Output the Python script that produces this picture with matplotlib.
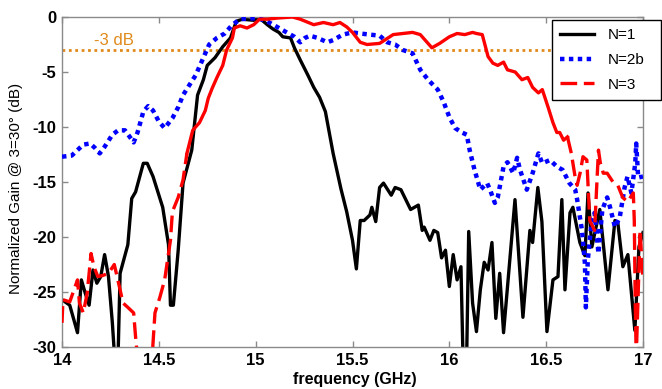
import numpy as np
import matplotlib
matplotlib.use("Agg")
import matplotlib.pyplot as plt

plt.rcParams['font.family'] = ['Liberation Sans', 'DejaVu Sans']
plt.rcParams['axes.unicode_minus'] = False

# ---- measured responses: frequency (GHz) / normalized gain (dB) ----
f_n1 = [14.00, 14.04, 14.08, 14.10, 14.12, 14.14, 14.16, 14.18, 14.20, 14.22,
        14.24, 14.26, 14.27, 14.29, 14.30, 14.34, 14.36, 14.38, 14.42, 14.44,
        14.47, 14.52, 14.55, 14.56, 14.575, 14.60, 14.625, 14.67, 14.70, 14.73,
        14.75, 14.79, 14.83, 14.87, 14.88, 14.90, 14.93, 14.99, 15.02, 15.06,
        15.09, 15.12, 15.14, 15.18, 15.20, 15.23, 15.27, 15.30, 15.33, 15.36,
        15.38, 15.40, 15.43, 15.44, 15.47, 15.50, 15.52, 15.54, 15.56, 15.59,
        15.60, 15.62, 15.64, 15.66, 15.70, 15.72, 15.75, 15.80, 15.84, 15.86,
        15.87, 15.90, 15.92, 15.94, 15.96, 15.98, 16.00, 16.02, 16.04, 16.06,
        16.07, 16.09, 16.10, 16.12, 16.14, 16.16, 16.18, 16.20, 16.22, 16.24,
        16.26, 16.28, 16.339, 16.38, 16.416, 16.43, 16.457, 16.478, 16.504, 16.535,
        16.561, 16.581, 16.597, 16.623, 16.638, 16.674, 16.70, 16.716, 16.736, 16.777,
        16.819, 16.855, 16.87, 16.896, 16.922, 16.958, 16.979, 17.00]
g_n1 = [-25.7, -26.2, -28.7, -23.9, -25.1, -26.2, -23.0, -24.2, -23.6, -21.6,
        -23.6, -27.8, -30.5, -30.5, -23.3, -20.7, -16.5, -15.9, -13.3, -13.3,
        -14.5, -17.3, -20.7, -26.2, -26.2, -21.2, -15.1, -12.1, -7.1, -5.7,
        -4.4, -3.7, -2.7, -1.9, -1.4, -0.4, -0.2, -0.3, -0.1, -0.7,
        -1.1, -1.4, -1.8, -1.9, -2.8, -3.9, -5.3, -6.4, -7.3, -8.6,
        -10.5, -12.4, -14.8, -15.6, -17.7, -20.3, -22.9, -18.5, -18.5, -18.0,
        -17.3, -18.6, -15.5, -15.1, -16.2, -15.5, -15.7, -17.5, -17.1, -19.4,
        -19.1, -20.3, -19.4, -19.6, -21.9, -21.2, -24.5, -21.6, -23.9, -22.7,
        -30.5, -30.5, -19.5, -26.0, -28.6, -24.8, -22.3, -23.0, -20.5, -27.4,
        -23.3, -28.7, -16.6, -27.3, -19.4, -20.5, -15.5, -18.6, -28.6, -23.9,
        -23.6, -16.6, -24.8, -17.8, -17.3, -20.5, -21.7, -16.0, -20.9, -17.5,
        -24.8, -18.5, -18.7, -22.7, -21.6, -28.5, -20.9, -19.6]

f_n2b = [14.00, 14.05, 14.08, 14.11, 14.145, 14.17, 14.195, 14.22, 14.26, 14.29,
         14.325, 14.35, 14.37, 14.39, 14.42, 14.445, 14.47, 14.50, 14.53, 14.57,
         14.60, 14.625, 14.65, 14.69, 14.72, 14.76, 14.80, 14.84, 14.88, 14.92,
         15.01, 15.06, 15.11, 15.16, 15.20, 15.23, 15.255, 15.28, 15.32, 15.37,
         15.40, 15.45, 15.50, 15.54, 15.59, 15.64, 15.68, 15.72, 15.76, 15.81,
         15.85, 15.89, 15.94, 15.97, 16.00, 16.03, 16.065, 16.09, 16.105, 16.13,
         16.16, 16.195, 16.21, 16.235, 16.25, 16.28, 16.30, 16.33, 16.35, 16.365,
         16.40, 16.43, 16.46, 16.48, 16.52, 16.555, 16.585, 16.62, 16.65, 16.66,
         16.685, 16.70, 16.705, 16.715, 16.735, 16.75, 16.77, 16.79, 16.815, 16.83,
         16.855, 16.88, 16.905, 16.92, 16.94, 16.96, 16.965, 16.975, 17.00]
g_n2b = [-12.7, -12.6, -12.1, -11.6, -11.5, -11.9, -12.4, -11.8, -10.7, -10.3,
         -10.3, -10.9, -11.4, -10.5, -8.6, -8.1, -8.5, -9.5, -10.1, -9.2,
         -8.2, -7.1, -6.4, -5.3, -4.1, -2.5, -1.9, -1.5, -0.7, -0.2,
         -0.1, -0.4, -0.9, -1.4, -1.8, -2.3, -1.9, -1.7, -1.9, -2.3,
         -2.1, -1.6, -1.4, -1.5, -1.6, -1.7, -2.3, -2.5, -3.0, -3.3,
         -4.8, -5.7, -6.6, -7.7, -9.1, -10.1, -10.5, -10.7, -12.1, -13.9,
         -15.7, -15.1, -15.7, -16.9, -16.4, -13.6, -13.2, -14.2, -12.8, -13.9,
         -15.7, -14.2, -12.4, -13.3, -13.0, -13.6, -13.9, -15.1, -15.7, -16.6,
         -19.4, -22.4, -26.4, -22.1, -18.5, -17.8, -21.5, -17.5, -16.4, -17.3,
         -19.1, -18.2, -15.5, -14.5, -16.0, -13.3, -11.5, -14.6, -14.5]

f_n3 = [14.00, 14.005, 14.04, 14.08, 14.09, 14.11, 14.13, 14.15, 14.165, 14.185,
        14.21, 14.24, 14.27, 14.30, 14.315, 14.34, 14.37, 14.38, 14.39, 14.42,
        14.465, 14.48, 14.505, 14.53, 14.56, 14.57, 14.60, 14.625, 14.645, 14.675,
        14.71, 14.74, 14.755, 14.775, 14.80, 14.83, 14.85, 14.88, 14.89, 14.92,
        14.955, 14.99, 15.02, 15.06, 15.11, 15.19, 15.23, 15.30, 15.35, 15.40,
        15.435, 15.47, 15.50, 15.54, 15.575, 15.64, 15.71, 15.81, 15.85, 15.91,
        15.95, 16.00, 16.04, 16.08, 16.12, 16.14, 16.17, 16.20, 16.225, 16.25,
        16.28, 16.30, 16.34, 16.375, 16.405, 16.43, 16.46, 16.48, 16.51, 16.535,
        16.555, 16.57, 16.59, 16.61, 16.63, 16.65, 16.66, 16.675, 16.69, 16.71,
        16.725, 16.75, 16.77, 16.78, 16.795, 16.815, 16.845, 16.87, 16.895, 16.92,
        16.95, 16.955, 16.96, 16.965, 16.985, 17.00]
g_n3 = [-27.8, -25.7, -25.9, -23.9, -26.0, -26.9, -25.1, -21.5, -22.7, -23.6,
        -23.5, -23.3, -22.5, -24.8, -26.0, -26.4, -26.9, -29.1, -31.0, -33.0,
        -31.0, -26.9, -25.5, -23.9, -20.3, -17.7, -16.4, -14.8, -12.4, -10.3,
        -9.6, -8.5, -7.4, -6.5, -5.5, -4.4, -3.0, -1.9, -1.0, -0.8,
        -1.0, -0.7, -0.2, -0.2, -0.1, 0.0, -0.2, -0.7, -0.5, -0.7,
        -0.5, -0.9, -1.4, -2.3, -2.5, -2.4, -1.6, -1.4, -1.6, -2.8,
        -2.4, -1.8, -1.5, -1.6, -1.4, -1.5, -1.6, -3.6, -4.2, -4.4,
        -4.1, -4.8, -5.0, -5.7, -5.5, -6.4, -6.9, -6.6, -8.2, -9.6,
        -10.5, -10.5, -11.2, -10.9, -12.4, -14.6, -15.3, -14.2, -12.7, -13.0,
        -18.5, -19.4, -12.1, -13.3, -14.2, -14.2, -15.0, -15.3, -16.4, -16.8,
        -16.0, -18.5, -26.0, -31.0, -19.4, -24.0]

ref_level = -3.0
ref_text = "-3 dB"
series_labels = ["N=1", "N=2b", "N=3"]
x_ticks = [14, 14.5, 15, 15.5, 16, 16.5, 17]
x_tick_labels = ["14", "14.5", "15", "15.5", "16", "16.5", "17"]
y_ticks = [0, -5, -10, -15, -20, -25, -30]
y_tick_labels = ["0", "-5", "-10", "-15", "-20", "-25", "-30"]

ORANGE = '#E08A1A'
GRAY = '#8a8a8a'

fig = plt.figure(figsize=(6.62, 3.89), dpi=100)
ax = fig.add_axes([62 / 662, 42 / 389, 581 / 662, 330 / 389])

# -3 dB reference
ax.axhline(ref_level, color=ORANGE, lw=2.0, linestyle=(0, (1, 1.3)), zorder=1)
ax.text(14.163, -2.55, ref_text, color=ORANGE, fontsize=12, va='baseline', ha='left')

# curves
ax.plot(f_n1, g_n1, color='black', lw=2.4, label=series_labels[0], zorder=2)
ax.plot(f_n2b, g_n2b, color='#0000FF', lw=3.2, linestyle=(0, (1, 1.0)),
        label=series_labels[1], zorder=3)

f3 = np.array(f_n3)
g3 = np.array(g_n3)
lo = f3 <= 14.645
mid = (f3 >= 14.645) & (f3 <= 16.61)
hi = f3 >= 16.61
ax.plot(f3[lo], g3[lo], color='#FF0000', lw=2.4, linestyle=(0, (5, 2)),
        label=series_labels[2], zorder=4)
ax.plot(f3[mid], g3[mid], color='#FF0000', lw=2.4, zorder=4)
ax.plot(f3[hi], g3[hi], color='#FF0000', lw=2.4, linestyle=(0, (5, 2)), zorder=4)

ax.set_xlim(14, 17)
ax.set_ylim(-30, 0)
ax.set_xticks(x_ticks)
ax.set_xticklabels(x_tick_labels)
ax.set_yticks(y_ticks)
ax.set_yticklabels(y_tick_labels)

for s in ax.spines.values():
    s.set_color(GRAY)
    s.set_linewidth(1.0)
ax.tick_params(direction='in', length=4, width=1, color=GRAY,
               top=True, right=True, labelsize=12, pad=4)
for lab in ax.get_xticklabels() + ax.get_yticklabels():
    lab.set_fontweight('bold')

ax.set_xlabel("frequency (GHz)", fontsize=11.5, fontweight='bold')
ax.xaxis.set_label_coords(0.504, -0.075)
ax.set_ylabel("Normalized Gain @ 3=30° (dB)", fontsize=11)
ax.yaxis.set_label_coords(-0.067, 0.48)

leg = ax.legend(loc='upper left',
                bbox_to_anchor=(552 / 662, (389 - 98) / 389, 109 / 662, 78 / 389),
                bbox_transform=fig.transFigure, borderaxespad=0, mode='expand',
                fontsize=11, handlelength=2.2, handletextpad=0.9,
                labelspacing=0.7, borderpad=0.55, fancybox=False,
                framealpha=1, edgecolor='black')
leg.get_frame().set_linewidth(1.0)
leg.set_zorder(10)

fig.savefig("out.png", dpi=100)
